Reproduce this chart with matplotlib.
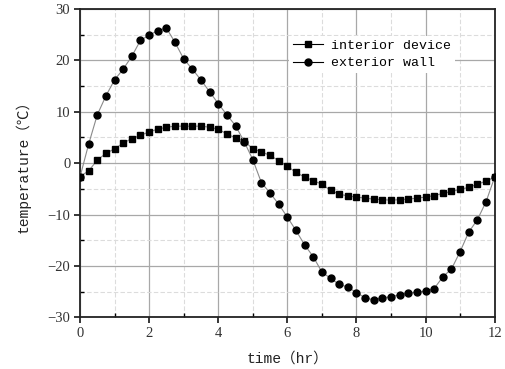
import matplotlib
matplotlib.use("Agg")
import matplotlib.pyplot as plt
from matplotlib.ticker import MultipleLocator

plt.rcParams["font.family"] = ["Liberation Serif", "DejaVu Serif"]

time_hr = [i * 0.25 for i in range(49)]

interior_device = [-2.6, -1.5, 0.6, 1.9, 2.8, 3.9, 4.8, 5.4, 6.1, 6.6, 7.0, 7.2, 7.2,
                   7.2, 7.2, 7.0, 6.6, 5.7, 4.9, 4.3, 2.8, 2.2, 1.5, 0.5, -0.6,
                   -1.8, -2.7, -3.4, -4.1, -5.3, -6.0, -6.4, -6.6, -6.8, -7.0, -7.1,
                   -7.2, -7.1, -7.0, -6.8, -6.6, -6.3, -5.9, -5.5, -5.1, -4.7, -4.1,
                   -3.5, -2.7]

exterior_wall = [-2.7, 3.7, 9.4, 13.1, 16.2, 18.3, 20.8, 23.9, 24.9, 25.8, 26.3, 23.5, 20.3,
                 18.3, 16.2, 13.9, 11.6, 9.4, 7.3, 4.2, 0.7, -3.8, -5.8, -8.0, -10.5,
                 -13.1, -15.9, -18.2, -21.2, -22.4, -23.6, -24.1, -25.2, -26.2, -26.6, -26.2,
                 -26.0, -25.6, -25.3, -25.1, -24.9, -24.4, -22.1, -20.6, -17.2, -13.4, -11.0,
                 -7.5, -2.7]

series_labels = ["interior device", "exterior wall"]
x_label = "time（hr）"
y_label = "temperature（℃）"

label_font = ["Liberation Mono", "Noto Sans CJK SC", "DejaVu Sans"]

fig = plt.figure(figsize=(5.05, 3.69), dpi=100)
ax = fig.add_axes([0.1584, 0.140, 0.8212, 0.8356])

ax.plot(time_hr, interior_device, color="#8a8a8a", lw=0.8, marker="s", ms=4.0,
        mfc="black", mec="black", label=series_labels[0], zorder=3)
ax.plot(time_hr, exterior_wall, color="#8a8a8a", lw=0.8, marker="o", ms=5.0,
        mfc="black", mec="black", label=series_labels[1], zorder=3)

ax.set_xlim(0, 12)
ax.set_ylim(-30, 30)
ax.xaxis.set_major_locator(MultipleLocator(2))
ax.xaxis.set_minor_locator(MultipleLocator(1))
ax.yaxis.set_major_locator(MultipleLocator(10))
ax.yaxis.set_minor_locator(MultipleLocator(5))

ax.grid(which="major", color="#a8a8a8", lw=0.9, ls="-")
ax.grid(which="minor", color="#dcdcdc", lw=0.8, ls=(0, (4, 2)))
ax.set_axisbelow(True)

for s in ax.spines.values():
    s.set_linewidth(1.3)
    s.set_color("#222222")

ax.tick_params(which="major", direction="out", length=4, width=1.1, pad=3,
               labelsize=10.5, labelcolor="#333333", top=False, right=False)
ax.tick_params(which="minor", direction="in", length=3, width=1.0, top=False, right=False)

ax.set_xlabel(x_label, family=label_font, fontsize=10.5, labelpad=8, color="#222222")
ax.set_ylabel(y_label, family=label_font, fontsize=10.5, labelpad=12, color="#222222")

leg = ax.legend(loc="upper right", bbox_to_anchor=(0.92, 0.935), frameon=True,
                prop={"family": label_font, "size": 9.5}, handlelength=2.3,
                handletextpad=0.6, labelspacing=0.4, borderpad=0.3)
leg.get_frame().set_facecolor("white")
leg.get_frame().set_edgecolor("none")
leg.get_frame().set_alpha(1)
for line in leg.get_lines():
    line.set_color("black")

fig.savefig("out.png", dpi=100)
